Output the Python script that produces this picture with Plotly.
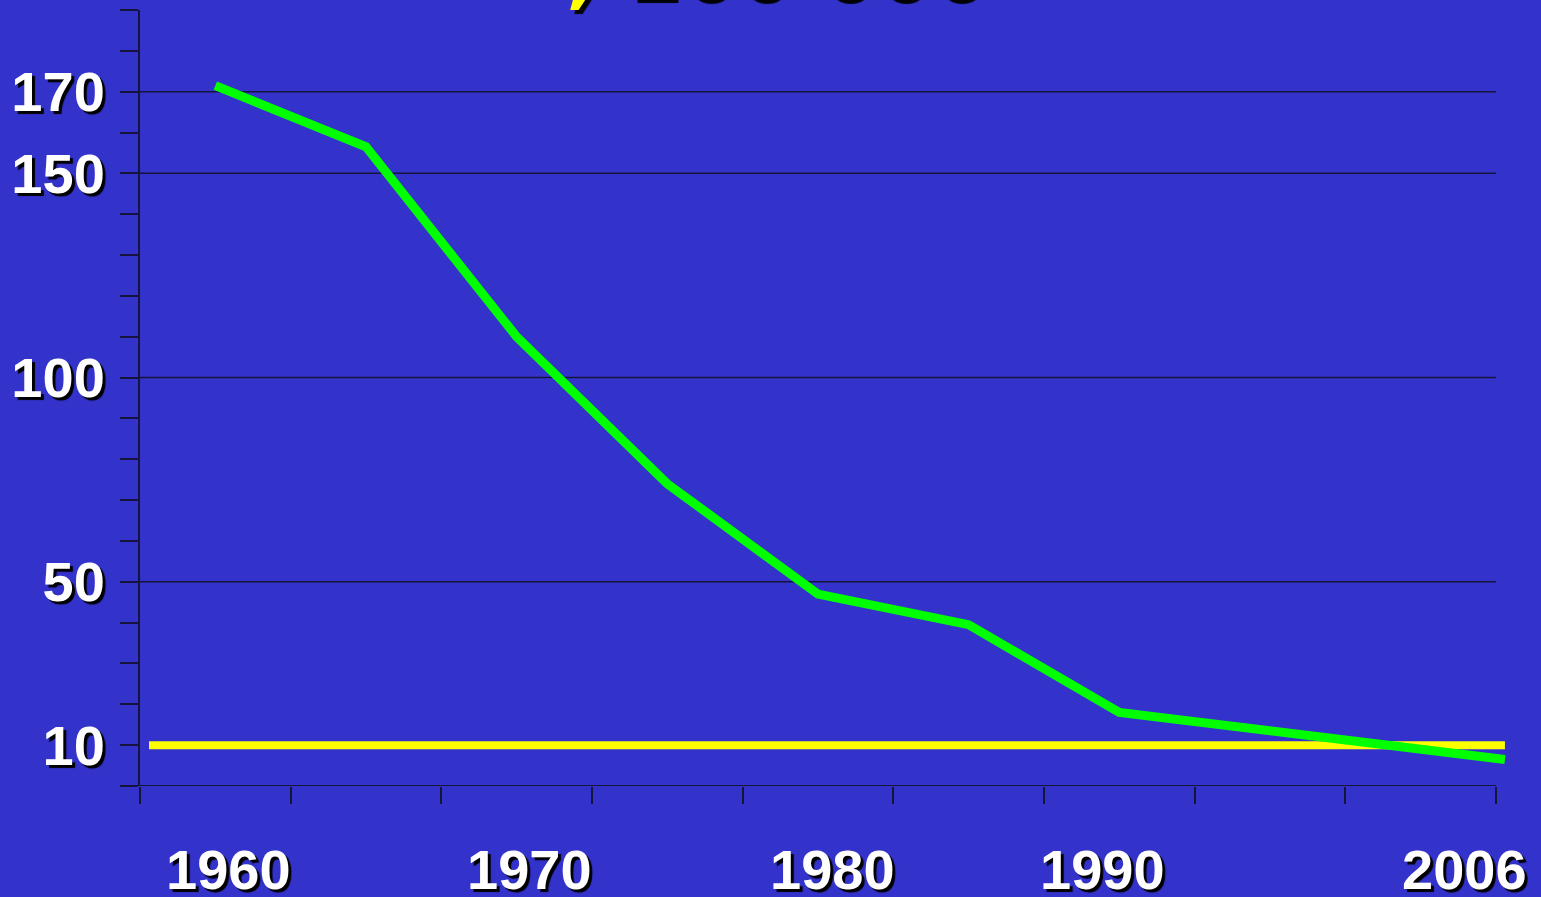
import plotly.graph_objects as go

# ---- data ----
years = [1960, 1965, 1970, 1975, 1980, 1985, 1990, 2006]
rate = [171.5, 156.5, 110, 74, 47, 39.5, 18, 6.5]
target_value = 10
y_label_values = [10, 50, 100, 150, 170]
grid_values = [50, 100, 150, 170]
x_labels = ["1960", "1970", "1980", "1990", "2006"]
title_text = ", 100 000"

# ---- axis helpers (axis is compressed after 1990) ----
def axis_x(year):
    return year if year <= 1990 else 1990 + (year - 1990) * 0.8

X_START = 1957.5
X_TICK_END = 2002.5
X_RANGE_END = 2003.3
x_boundaries = [X_START + 5 * k for k in range(10)]
label_shift = [13, 13, 15, -17, -40]

BG = "#3333CC"
AX = "#14143c"
FONT = "Liberation Sans, Arial, sans-serif"
SHADOW = "3px 3px 1px #000000"

xs = [axis_x(y) for y in years]

fig = go.Figure()
fig.add_trace(go.Scatter(
    x=[X_START + 0.3, axis_x(years[-1])], y=[target_value, target_value],
    mode="lines", line=dict(color="#FFFF00", width=8), hoverinfo="skip", showlegend=False))
fig.add_trace(go.Scatter(
    x=xs, y=rate, mode="lines", line=dict(color="#00FF00", width=9),
    showlegend=False))

shapes = []
for g in grid_values:
    shapes.append(dict(type="line", xref="x", yref="y", x0=X_START, x1=X_TICK_END, y0=g, y1=g,
                       line=dict(color=AX, width=1.5), layer="below"))
shapes.append(dict(type="line", xref="x", yref="y", x0=X_START, x1=X_TICK_END, y0=0, y1=0,
                   line=dict(color=AX, width=2), layer="above"))

annotations = []
for lab, sh in zip(x_labels, label_shift):
    annotations.append(dict(
        x=axis_x(int(lab)), y=0, xref="x", yref="paper", text=lab, showarrow=False,
        xanchor="center", yanchor="middle", xshift=sh, yshift=-83,
        font=dict(family=FONT, size=56, color="white", weight="bold", shadow=SHADOW)))
annotations.append(dict(
    x=0.5, y=1, xref="paper", yref="paper", text=title_text, showarrow=False,
    xanchor="center", yanchor="bottom", xshift=-54, yshift=-10,
    font=dict(family="DejaVu Sans, sans-serif", size=80, color="#FFFF00", weight="bold",
              shadow="4px 4px 1px #000000")))

fig.update_layout(
    width=1541, height=897, autosize=False,
    margin=dict(l=140, r=21, t=10, b=111, pad=0),
    paper_bgcolor=BG, plot_bgcolor=BG,
    shapes=shapes, annotations=annotations,
    xaxis=dict(range=[X_START, X_RANGE_END], tickmode="array", tickvals=x_boundaries,
               showticklabels=False, ticks="outside", ticklen=17, tickwidth=1.5, tickcolor=AX,
               showgrid=False, zeroline=False, showline=False, automargin=False),
    yaxis=dict(range=[0, 190], tickmode="array", tickvals=y_label_values,
               ticktext=[str(v) for v in y_label_values],
               ticks="outside", ticklen=18, tickwidth=1.5, tickcolor=AX,
               ticklabelstandoff=4, automargin=False,
               tickfont=dict(family=FONT, size=56, color="white", weight="bold", shadow=SHADOW),
               minor=dict(tickmode="linear", tick0=0, dtick=10, ticks="outside", ticklen=18,
                          tickwidth=1.5, tickcolor=AX, showgrid=False),
               showgrid=False, zeroline=False, showline=True, linecolor=AX, linewidth=2),
)

fig.write_html(
    "out.html",
    config={"displayModeBar": False},
    post_script="document.body.style.margin='0';document.body.style.overflow='hidden';"
                "document.body.style.background='" + BG + "';",
)
